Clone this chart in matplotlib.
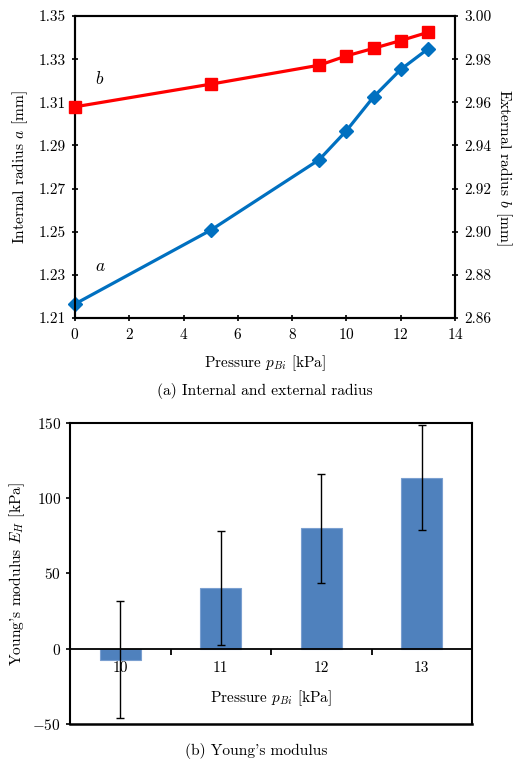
import numpy as np
import matplotlib
matplotlib.use('Agg')
import matplotlib.pyplot as plt
from matplotlib.lines import Line2D

plt.rcParams['font.family'] = 'serif'
plt.rcParams['font.serif'] = ['cmr10']
plt.rcParams['mathtext.fontset'] = 'cm'
plt.rcParams['axes.formatter.use_mathtext'] = True
plt.rcParams['font.size'] = 11

# (a) radius data
pressure = [0, 5, 9, 10, 11, 12, 13]
radius_a = [1.2165, 1.2507, 1.2834, 1.2968, 1.3125, 1.3252, 1.3347]
radius_b = [2.9579, 2.9684, 2.9772, 2.9815, 2.9850, 2.9886, 2.9924]

# (b) Young's modulus data
categories = ['10', '11', '12', '13']
modulus = [-7.3, 40.3, 80.1, 113.7]
modulus_err = [39.0, 37.6, 36.3, 35.0]

fig = plt.figure(figsize=(5.17, 7.62), dpi=100)

# ---- top chart ----
ax1 = fig.add_axes([0.145, 0.5827, 0.735, 0.3963])
ax2 = ax1.twinx()
ax1.plot(pressure, radius_a, color='#0070C0', lw=2.3, marker='D', ms=7, zorder=3, clip_on=False)
ax2.plot(pressure, radius_b, color='#FF0000', lw=2.3, marker='s', ms=9, zorder=3, clip_on=False)
ax1.set_xlim(0, 14)
ax1.set_ylim(1.21, 1.35)
ax2.set_ylim(2.86, 3.00)
ax1.set_xticks(np.arange(0, 15, 2))
ax1.set_yticks(np.arange(1.21, 1.351, 0.02))
ax2.set_yticks(np.arange(2.86, 3.001, 0.02))
ax1.yaxis.set_major_formatter(matplotlib.ticker.FormatStrFormatter('%.2f'))
ax2.yaxis.set_major_formatter(matplotlib.ticker.FormatStrFormatter('%.2f'))
for ax in (ax1, ax2):
    ax.tick_params(direction='inout', length=5, width=1.2, labelsize=11, pad=4)
    for s in ax.spines.values():
        s.set_linewidth(1.5)
ax1.set_xlabel('Pressure $p_{Bi}$ [kPa]', fontsize=11, labelpad=8)
ax1.set_ylabel('Internal radius $a$ [mm]', fontsize=11.2, labelpad=6)
ax2.set_ylabel('External radius $b$ [mm]', fontsize=11.2, rotation=-90, labelpad=16)
ax1.text(0.75, 1.232, '$a$', fontsize=12.5)
ax1.text(0.75, 1.3185, '$b$', fontsize=12.5)
fig.text(0.513, 0.487, '(a) Internal and external radius', ha='center', va='center', fontsize=11.2)

# ---- bottom chart ----
ax3 = fig.add_axes([0.1354, 0.0499, 0.7776, 0.395])
x = np.arange(len(categories))
ax3.bar(x, modulus, width=0.41, color='#4F81BD', edgecolor='#7A9FD0', lw=0.8, zorder=2)
ax3.errorbar(x, modulus, yerr=modulus_err, fmt='none', ecolor='black', elinewidth=1.0,
             capsize=3, capthick=1.0, zorder=3)
ax3.set_xlim(-0.5, 3.5)
ax3.set_ylim(-50, 150)
ax3.set_yticks([-50, 0, 50, 100, 150])
ax3.spines['bottom'].set_position(('data', 0))
ax3.spines['bottom'].set_linewidth(1.3)
for s in ['left', 'right', 'top']:
    ax3.spines[s].set_linewidth(1.5)
ax3.add_line(Line2D([0, 1], [0, 0], transform=ax3.transAxes, color='black', lw=1.8, clip_on=False))
ax3.set_xticks(x)
ax3.set_xticklabels(categories)
ax3.set_xticks([0.5, 1.5, 2.5], minor=True)
ax3.tick_params(axis='x', which='major', length=0, pad=9, labelsize=11)
ax3.tick_params(axis='x', which='minor', direction='out', length=4, width=1.3)
ax3.tick_params(axis='y', direction='out', length=3, width=1.2, labelsize=11)
ax3.set_xlabel('Pressure $p_{Bi}$ [kPa]', fontsize=11, labelpad=10)
ax3.set_ylabel("Young's modulus $E_H$ [kPa]", fontsize=11.2, labelpad=4)
fig.text(0.495, 0.0145, "(b) Young's modulus", ha='center', va='center', fontsize=11.2)

fig.savefig('out.png', dpi=100)
